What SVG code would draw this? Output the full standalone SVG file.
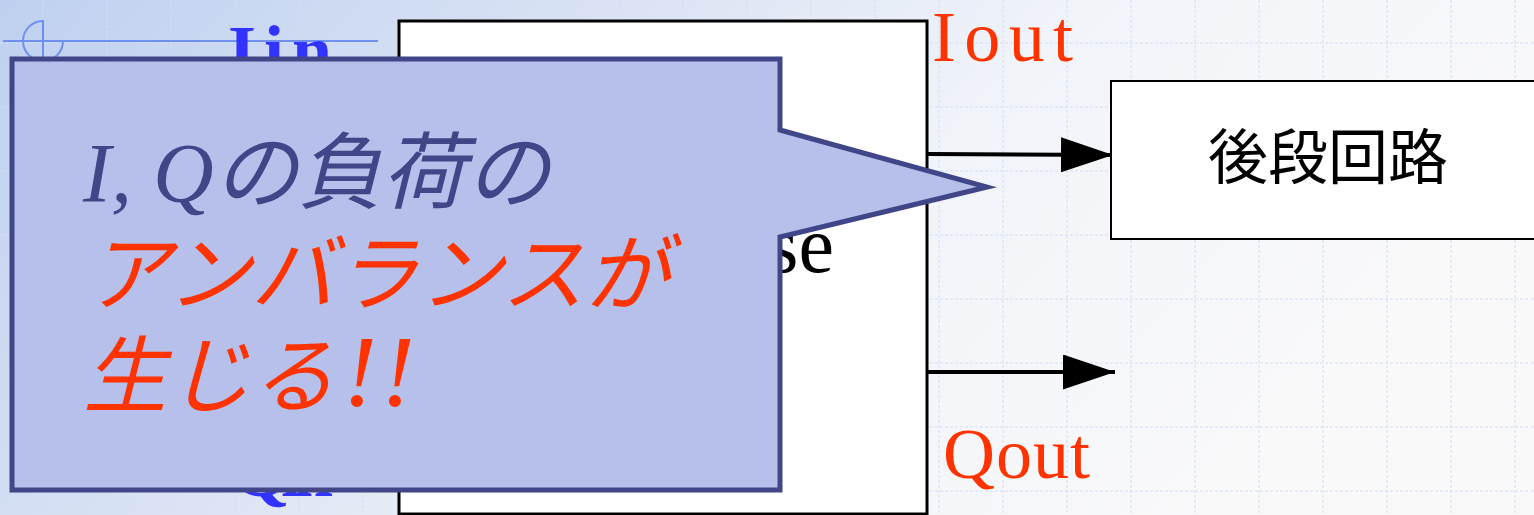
<svg xmlns="http://www.w3.org/2000/svg" width="1534" height="515" viewBox="0 0 1534 515">
  <defs>
    <linearGradient id="bg" x1="0" y1="0" x2="1" y2="0.3">
      <stop offset="0" stop-color="#bfd0f0"/>
      <stop offset="0.35" stop-color="#d8e2f4"/>
      <stop offset="0.65" stop-color="#f1f4f9"/>
      <stop offset="1" stop-color="#f9f9fa"/>
    </linearGradient>
    <marker id="arrow" markerUnits="userSpaceOnUse" markerWidth="54" markerHeight="36" refX="52" refY="17.5" orient="auto">
      <path d="M0,0 L52,17.5 L0,35 Z" fill="#000"/>
    </marker>
    <style>
      .grid { stroke: #d3ddf8; stroke-width: 1; stroke-dasharray: 3 2; fill: none; }
      .box { fill: #fff; stroke: #000; }
      .sig { font-family: "Liberation Serif", serif; font-size: 72px; }
      .in { font-weight: bold; fill: #3333ff; }
      .out { fill: #ff3300; }
      .conn { stroke: #000; stroke-width: 4; fill: none; marker-end: url(#arrow); }
      .call { font-family: "Liberation Serif", "Noto Sans CJK JP", serif; font-size: 84px; font-style: italic; }
    </style>
  </defs>
  <rect x="0" y="0" width="1534" height="515" fill="url(#bg)"/>
  <path class="grid" d="M43,0V515M107,0V515M171,0V515M235,0V515M299,0V515M363,0V515M427,0V515M491,0V515M555,0V515M619,0V515M683,0V515M747,0V515M811,0V515M875,0V515M939,0V515M1003,0V515M1067,0V515M1131,0V515M1195,0V515M1259,0V515M1323,0V515M1387,0V515M1451,0V515M1515,0V515M0,43H1534M0,107H1534M0,171H1534M0,235H1534M0,299H1534M0,363H1534M0,427H1534M0,491H1534"/>
  <g id="deco" stroke="#7090f0" stroke-width="2" fill="none">
    <path d="M43,21 A20,20 0 1 0 63,41"/>
    <path d="M43,20 V58"/>
    <path d="M3,41 H378"/>
  </g>
  <g id="main-box">
    <rect class="box" x="399" y="21" width="528" height="493" stroke-width="3"/>
    <text x="834" y="272" text-anchor="end" font-family="Liberation Serif, serif" font-size="80" fill="#000">se</text>
  </g>
  <g id="labels">
    <text class="sig in" x="228" y="75" textLength="104">Iin</text>
    <text class="sig in" x="233" y="496" textLength="100">Qin</text>
    <text class="sig out" x="932" y="61" textLength="141">Iout</text>
    <text class="sig out" x="943" y="478" textLength="147">Qout</text>
  </g>
  <g id="connectors">
    <line class="conn" x1="928" y1="154" x2="1113" y2="155"/>
    <line class="conn" x1="928" y1="372" x2="1115" y2="372"/>
  </g>
  <g id="later-stage">
    <rect class="box" x="1111" y="81" width="450" height="158" stroke-width="2"/>
    <text x="1328" y="179" text-anchor="middle" font-family="Noto Sans CJK JP, sans-serif" font-size="60" fill="#000">後段回路</text>
  </g>
  <g id="callout">
    <path d="M12,59 H780 V130 L987,187 L780,237 V490 H12 Z" fill="#b6c0ea" stroke="#414689" stroke-width="5"/>
    <text class="call" x="83" y="202" fill="#414689">I, Qの負荷の</text>
    <text class="call" x="86" y="304" fill="#ff3300" font-size="83">アンバランスが</text>
    <text class="call" x="83" y="406" fill="#ff3300">生じる<tspan dx="8" font-size="102" letter-spacing="4">!!</tspan></text>
  </g>
</svg>
